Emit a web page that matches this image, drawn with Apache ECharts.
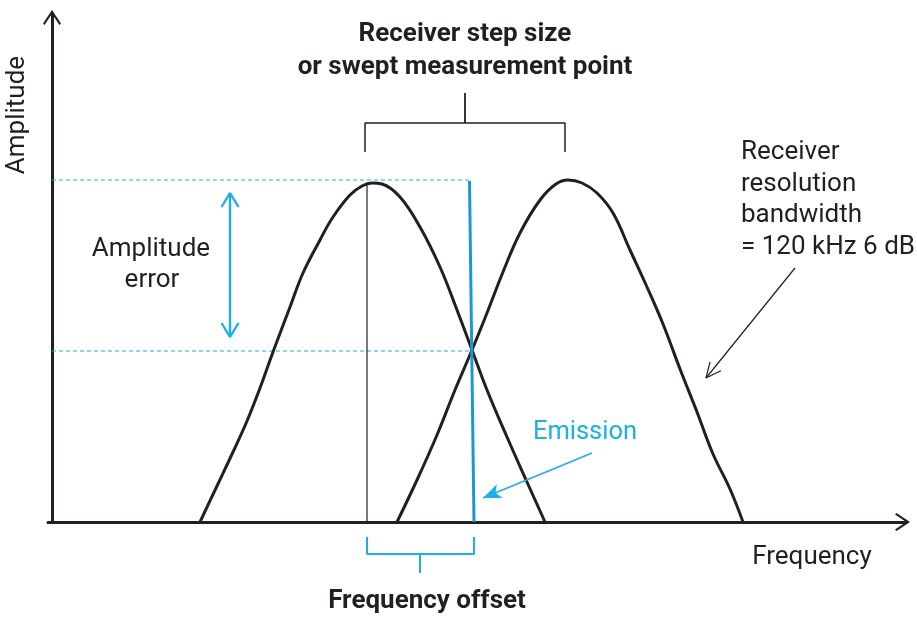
<!DOCTYPE html>
<html>
<head>
<meta charset="utf-8">
<script src="https://cdn.jsdelivr.net/npm/echarts@6/dist/echarts.min.js"></script>
<style>
html,body{margin:0;padding:0;background:#fff;}
#chart{width:917px;height:618px;}
</style>
</head>
<body>
<div id="chart"></div>
<script>
// ---- Data (x: frequency units, y: amplitude units) ----
var filterCurve1 = [[148,0],[165,36],[181,70],[195,101],[208,134],[221,170],[238,215],[251,249],[268,282],[281,305],[298,327],[310,336],[320,339],[330,338],[348,325],[368,295],[388,255],[405,212],[420,172],[435,132],[455,85],[475,40],[493,0]];
var filterCurve2 = [[345,0],[365,42],[385,87],[403,132],[420,172],[435,209],[451,250],[468,289],[488,322],[504,338],[516,342],[530,339],[545,329],[561,309],[578,272],[595,235],[611,198],[628,153],[645,110],[661,68],[678,33],[691,0]];
var markerLine = [[315,0],[315,338]];
var emissionLine = [[417.5,341],[422,0]];
var peakLevel = [[0,342],[418,342]];
var crossLevel = [[0,171],[419,171]];
var ampErrorEnds = [[178,329],[178,185]];
var stepBracket = [[313,370],[313,399],[513,399],[513,370]];
var stepStem = [[413,399],[413,429]];
var offsetBracket = [[315,-15],[315,-32],[422,-32],[422,-15]];
var offsetStem = [[368,-32],[368,-51]];
var emissionPointer = [[540,69],[431,24]];
var rbwPointer = [[743,254],[654,144]];

var BLACK = '#231f20', BLUE = '#1eaee8', BLUE2 = '#1b98d4';

function chevron(tip, from, len, half) {
  var dx = from[0] - tip[0], dy = from[1] - tip[1];
  var L = Math.sqrt(dx*dx + dy*dy); dx /= L; dy /= L;
  var px = -dy, py = dx;
  return [[tip[0] + dx*len + px*half, tip[1] + dy*len + py*half], tip,
          [tip[0] + dx*len - px*half, tip[1] + dy*len - py*half]];
}
function lineSeries(data, color, width, extra) {
  var s = { type: 'line', data: data, symbol: 'none', silent: true, clip: false,
    lineStyle: { color: color, width: width }, animation: false, z: 3 };
  if (extra) for (var k in extra) s[k] = extra[k];
  if (extra && extra.lineType) s.lineStyle.type = extra.lineType;
  return s;
}

var chev = 'path://M9,0L18,13.5L16.4,15L9,3.8L1.6,15L0,13.5Z';
var font = 'Roboto, "Noto Sans", sans-serif';
function txt(x, y, text, size, opts) {
  opts = opts || {};
  return { type: 'text', x: x, y: y, rotation: opts.rotation || 0,
    style: { text: text, font: (opts.bold ? 'bold ' : '') + size + 'px ' + font,
      fill: opts.color || BLACK, textAlign: opts.align || 'center', textVerticalAlign: 'middle' } };
}

var chart = echarts.init(document.getElementById('chart'));
var option = {
  animation: false,
  grid: { left: 48, right: 11, top: 14, bottom: 96 },
  xAxis: { type: 'value', min: -4, max: 854, splitLine: {show:false}, axisTick:{show:false}, axisLabel:{show:false},
    axisLine: { show: true, onZero: true, symbol: ['none', chev], symbolSize: [18,15], symbolOffset: [0,-3.5], lineStyle: { color: BLACK, width: 3 } } },
  yAxis: { type: 'value', min: 0, max: 508, splitLine: {show:false}, axisTick:{show:false}, axisLabel:{show:false},
    axisLine: { show: true, onZero: true, symbol: ['none', chev], symbolSize: [18,15], symbolOffset: [0,-3.5], lineStyle: { color: BLACK, width: 3 } } },
  series: [
    lineSeries(peakLevel, BLUE, 1.2, { lineType: [4,3] }),
    lineSeries(crossLevel, BLUE, 1.2, { lineType: [4,3] }),
    lineSeries(markerLine, BLACK, 1.2),
    lineSeries(filterCurve1, BLACK, 3, { smooth: 0.4 }),
    lineSeries(filterCurve2, BLACK, 3, { smooth: 0.4 }),
    lineSeries(emissionLine, BLUE2, 3),
    lineSeries(ampErrorEnds, BLUE, 2.4),
    lineSeries(chevron(ampErrorEnds[0], ampErrorEnds[1], 14, 8.5), BLUE, 2.4),
    lineSeries(chevron(ampErrorEnds[1], ampErrorEnds[0], 14, 8.5), BLUE, 2.4),
    lineSeries(stepBracket, BLACK, 1.5),
    lineSeries(stepStem, BLACK, 1.8),
    lineSeries(offsetBracket, BLUE, 2),
    lineSeries(offsetStem, BLUE, 2),
    lineSeries(emissionPointer, BLUE, 1.5),
    lineSeries(rbwPointer, BLACK, 1.2),
    lineSeries(chevron(rbwPointer[1], rbwPointer[0], 15, 7), BLACK, 1.2),
    {
      type: 'custom', silent: true, clip: false, z: 4,
      data: [[emissionPointer[1][0], emissionPointer[1][1], emissionPointer[0][0], emissionPointer[0][1]]],
      renderItem: function (params, api) {
        var tip = api.coord([api.value(0), api.value(1)]);
        var from = api.coord([api.value(2), api.value(3)]);
        var dx = from[0]-tip[0], dy = from[1]-tip[1], L = Math.sqrt(dx*dx+dy*dy);
        dx/=L; dy/=L; var px=-dy, py=dx, len=18, half=7.5;
        return { type: 'polygon', shape: { points: [
          tip,
          [tip[0]+dx*len+px*half, tip[1]+dy*len+py*half],
          [tip[0]+dx*len*0.75, tip[1]+dy*len*0.75],
          [tip[0]+dx*len-px*half, tip[1]+dy*len-py*half]
        ] }, style: { fill: BLUE } };
      }
    }
  ],
  graphic: [
    txt(465, 34, 'Receiver step size', 26, { bold: true }),
    txt(465, 67, 'or swept measurement point', 26, { bold: true }),
    txt(427, 601, 'Frequency offset', 26, { bold: true }),
    txt(812, 557, 'Frequency', 26),
    txt(17, 115, 'Amplitude', 26, { rotation: Math.PI/2 }),
    txt(151, 249, 'Amplitude', 26),
    txt(152, 280, 'error', 26),
    txt(585, 433, 'Emission', 25.5, { color: BLUE }),
    txt(741, 152, 'Receiver', 26, { align: 'left' }),
    txt(741, 184, 'resolution', 26, { align: 'left' }),
    txt(741, 215, 'bandwidth', 26, { align: 'left' }),
    txt(741, 247, '= 120 kHz 6 dB', 26, { align: 'left' })
  ]
};
chart.setOption(option);
</script>
</body>
</html>
